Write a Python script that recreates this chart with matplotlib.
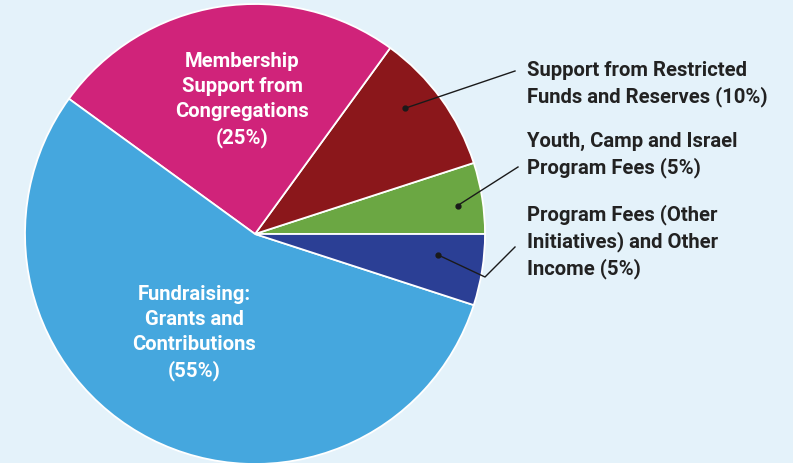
import numpy as np
import matplotlib
matplotlib.use('Agg')
import matplotlib.pyplot as plt

# slices, counterclockwise from 3 o'clock
labels = ['Youth, Camp and Israel\nProgram Fees (5%)',
          'Support from Restricted\nFunds and Reserves (10%)',
          'Membership\nSupport from\nCongregations\n(25%)',
          'Fundraising:\nGrants and\nContributions\n(55%)',
          'Program Fees (Other\nInitiatives) and Other\nIncome (5%)']
shares = [5, 10, 25, 55, 5]
colors = ['#6BA743', '#8B171B', '#D0237A', '#45A7DE', '#2B3F95']

W, H = 793, 463
bg = '#E4F2FA'
fig = plt.figure(figsize=(W / 100, H / 100), dpi=100, facecolor=bg)
ax = fig.add_axes([0, 0, 1, 1])

cx, cy, r = 255, H - 234, 230
wedges, _ = ax.pie(shares, colors=colors, startangle=0, counterclock=True,
                   center=(cx, cy), radius=r, frame=True,
                   wedgeprops=dict(edgecolor='white', linewidth=1.3))
ax.set_xlim(0, W)
ax.set_ylim(0, H)
ax.set_aspect('equal')
ax.axis('off')

font = dict(family='Roboto', weight='bold', fontsize=14.6, linespacing=1.39)

# labels inside the two big slices
ax.text(242, H - 100, labels[2], color='white', ha='center', va='center', **font)
ax.text(194, H - 333, labels[3], color='white', ha='center', va='center', **font)

# outside labels with leader lines
def leader(w, frac, ang_off, pts, txt, ty):
    ang = np.deg2rad((w.theta1 + w.theta2) / 2 + ang_off)
    px, py = cx + frac * r * np.cos(ang), cy + frac * r * np.sin(ang)
    xs = [px] + [p[0] for p in pts]
    ys = [py] + [H - p[1] for p in pts]
    ax.plot(xs, ys, color='#1a1a1a', lw=1)
    ax.plot(px, py, 'o', color='#1a1a1a', ms=3.5)
    ax.text(527, H - ty, txt, color='#222222', ha='left', va='center', **font)

leader(wedges[1], 0.85, 4, [(515, 71)], labels[1], 84)
leader(wedges[0], 0.89, -1, [(518, 167)], labels[0], 155)
leader(wedges[4], 0.80, 2.5, [(485, 277), (515, 247)], labels[4], 242)

fig.savefig('out.png', dpi=100, facecolor=bg)
